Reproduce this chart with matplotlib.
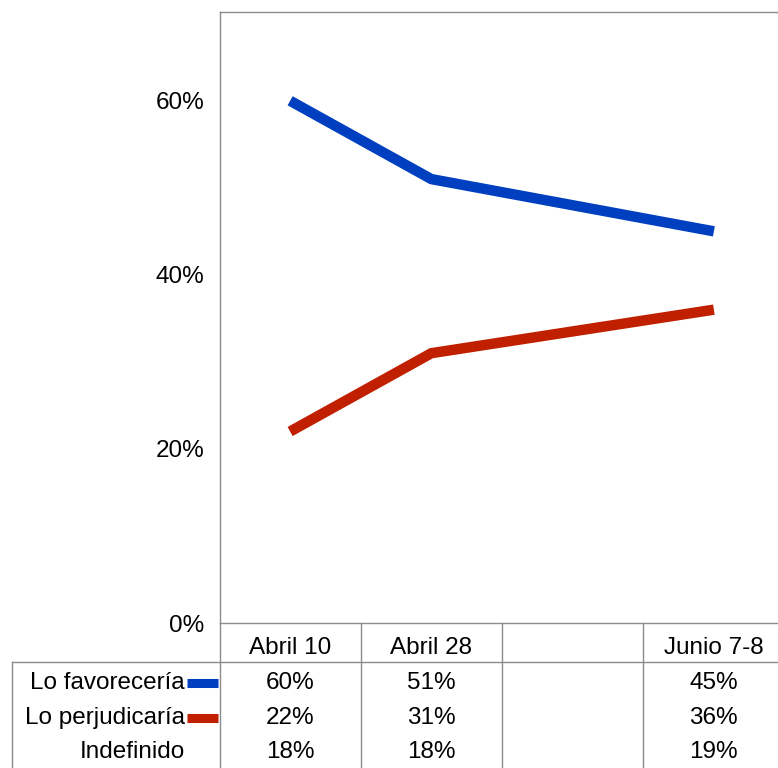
import numpy as np
import matplotlib.pyplot as plt
from matplotlib.lines import Line2D
from matplotlib.transforms import blended_transform_factory

# datos
fechas = ['Abril 10', 'Abril 28', '', 'Junio 7-8']
favoreceria = [60, 51, np.nan, 45]
perjudicaria = [22, 31, np.nan, 36]
indefinido = [18, 18, np.nan, 19]
filas = ['Lo favorecería', 'Lo perjudicaría', 'Indefinido']
yticks = [0, 20, 40, 60]

azul = '#0040C0'
rojo = '#C02000'
gris = '#8c8c8c'
fs = 17.5

plt.rcParams['font.family'] = ['Liberation Sans', 'DejaVu Sans']

W, H = 778, 768
fig = plt.figure(figsize=(W / 100, H / 100), dpi=100)
ax = fig.add_axes([219.5 / W, 145 / H, 565 / W, 611 / H])

x = np.arange(len(fechas))
for vals, col in [(favoreceria, azul), (perjudicaria, rojo)]:
    v = np.array(vals, dtype=float)
    m = ~np.isnan(v)
    ax.plot(x[m], v[m], color=col, lw=7.5, solid_capstyle='butt', solid_joinstyle='miter')

ax.set_xlim(-0.5, 3.5)
ax.set_ylim(0, 70.2)
ax.set_yticks(yticks)
ax.set_yticklabels([f'{t}%' for t in yticks])
ax.set_xticks([])
ax.tick_params(axis='y', length=0, pad=11, labelsize=fs)
for s in ['left', 'top', 'bottom']:
    ax.spines[s].set_color(gris)
    ax.spines[s].set_linewidth(1)
ax.spines['right'].set_visible(False)

# tabla de datos bajo el grafico
top_px = 12
bot_px = 623


def ay(py):
    return (bot_px - py) / (bot_px - top_px)


tr = blended_transform_factory(ax.transData, ax.transAxes)

for i, f in enumerate(fechas):
    ax.text(i, ay(648), f, transform=tr, ha='center', va='center', fontsize=fs, clip_on=False)

row_y = [683, 718, 752]
for vals, py in zip([favoreceria, perjudicaria, indefinido], row_y):
    for i, v in enumerate(vals):
        if not np.isnan(v):
            ax.text(i, ay(py), f'{v:.0f}%', transform=tr, ha='center', va='center',
                    fontsize=fs, clip_on=False)

for b in np.arange(len(fechas)) - 0.5:
    ax.add_line(Line2D([b, b], [0, ay(770)], transform=tr, color=gris, lw=1, clip_on=False))

# lineas de la tabla en coordenadas de figura
fig.add_artist(Line2D([12 / W, 1], [1 - 662 / H, 1 - 662 / H], transform=fig.transFigure, color=gris, lw=1))
fig.add_artist(Line2D([12 / W, 12 / W], [0, 1 - 662 / H], transform=fig.transFigure, color=gris, lw=1))

for nombre, py in zip(filas, row_y):
    fig.text(185 / W, 1 - py / H, nombre, ha='right', va='center', fontsize=fs)

for col, py in zip([azul, rojo], row_y):
    fig.add_artist(Line2D([187 / W, 218 / W], [1 - py / H, 1 - py / H], transform=fig.transFigure,
                          color=col, lw=6.5, solid_capstyle='butt'))

fig.savefig('out.png', dpi=100)
